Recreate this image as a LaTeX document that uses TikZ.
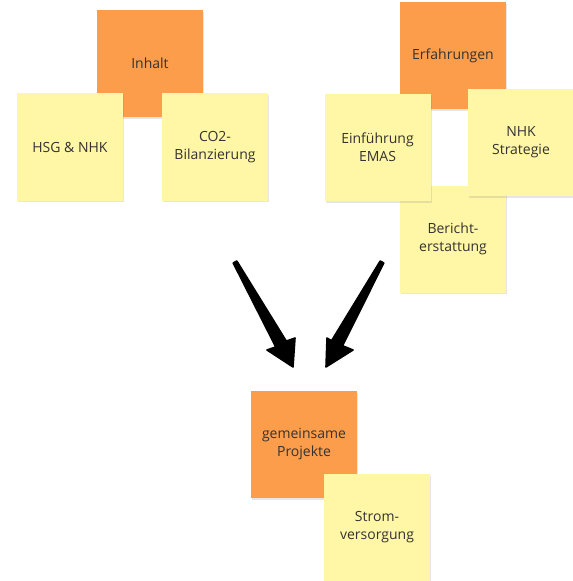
\documentclass[tikz,border=0pt]{standalone}
\usepackage{fontspec}
\setmainfont{Open Sans}
\usetikzlibrary{shadows}
\definecolor{noteorange}{HTML}{FB9D4B}
\definecolor{noteyellow}{HTML}{FFF6A6}
\definecolor{notetext}{HTML}{333333}
\tikzset{
  note/.style={rectangle, minimum width=79.5pt, minimum height=80.25pt, inner sep=2pt,
    align=center, text=notetext, font=\fontsize{10.5}{13.5}\selectfont,
    drop shadow={shadow xshift=0.8pt, shadow yshift=-1.2pt, opacity=0.2}},
  orangenote/.style={note, fill=noteorange},
  yellownote/.style={note, fill=noteyellow},
  bigarrow/.style={fill=black, draw=black, line width=1.2pt, line join=round}
}
\begin{document}
\begin{tikzpicture}[x=0.75pt, y=-0.75pt]
\useasboundingbox (0,0) rectangle (572,581);
% group 1
\node[orangenote] (inhalt) at (150,63.5) {Inhalt};
\node[yellownote] (hsg) at (70,147) {HSG \& NHK};
\node[yellownote] (co2) at (215,147) {CO2-\\Bilanzierung};
% group 2
\node[orangenote] (erf) at (453,56) {Erfahrungen};
\node[yellownote] (bericht) at (453,239) {Bericht-\\erstattung};
\node[yellownote] (emas) at (377.5,147.5) {Einführung\\EMAS};
\node[yellownote] (nhk) at (521,142.5) {NHK\\Strategie};
% group 3
\node[orangenote] (gem) at (304,444.5) {gemeinsame\\Projekte};
\node[yellownote] (strom) at (377,527.5) {Strom-\\versorgung};
% arrows
\coordinate (ltip) at (293,367);
\coordinate (rtip) at (326,367);
\fill[bigarrow] (236.8,261) -- (286.3,341.1) -- (295,338) -- (ltip) -- (267,350) -- (275.7,346.9) -- (233.2,263) -- cycle;
\fill[bigarrow] (380.2,261) -- (331.3,341.1) -- (353,350) -- (rtip) -- (327,338) -- (342,346.9) -- (383.8,263) -- cycle;
\end{tikzpicture}
\end{document}
